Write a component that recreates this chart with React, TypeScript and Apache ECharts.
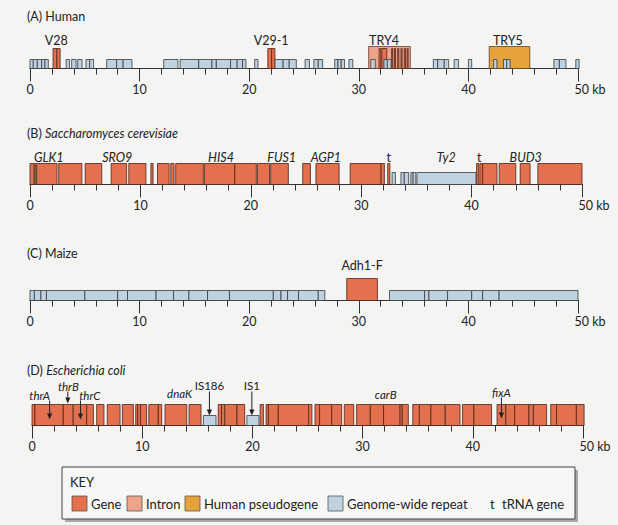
import React, { useEffect, useRef } from 'react';
import * as echarts from 'echarts';

type Block = [number, number, string];
type Label = [number, string];

// ---------- DATA (kb positions) ----------
const humanBlocks: Block[] = [
  [30.9, 34.7, 'intron'],
  [41.9, 45.6, 'pseudo'],
  [2.1, 2.45, 'gene'], [2.45, 2.75, 'gene'],
  [21.7, 22.05, 'gene'], [22.05, 22.35, 'gene'],
  [31.85, 32.0, 'gene'], [32.1, 32.55, 'gene'], [33.0, 33.1, 'gene'], [33.25, 33.35, 'gene'],
  [33.55, 33.65, 'gene'], [33.85, 33.95, 'gene'], [34.15, 34.25, 'gene'], [34.4, 34.5, 'gene'],
  [0, 0.3, 'repeat'], [0.3, 0.67, 'repeat'], [0.67, 1.07, 'repeat'], [1.07, 1.37, 'repeat'], [1.37, 1.67, 'repeat'],
  [3.3, 3.6, 'repeat'], [3.8, 4.2, 'repeat'], [4.35, 4.75, 'repeat'], [5.1, 5.45, 'repeat'], [5.45, 5.8, 'repeat'],
  [7.0, 7.9, 'repeat'], [7.9, 8.5, 'repeat'], [8.5, 9.3, 'repeat'],
  [12.2, 13.5, 'repeat'],
  [13.7, 15.4, 'repeat'], [15.4, 16.6, 'repeat'], [16.6, 17.0, 'repeat'], [17.0, 18.3, 'repeat'],
  [18.3, 18.9, 'repeat'], [18.9, 19.4, 'repeat'], [19.4, 19.7, 'repeat'],
  [20.5, 20.8, 'repeat'],
  [22.35, 23.1, 'repeat'], [23.1, 23.65, 'repeat'], [23.65, 24.3, 'repeat'],
  [25.1, 25.5, 'repeat'], [25.9, 26.3, 'repeat'], [26.3, 26.7, 'repeat'],
  [27.8, 28.1, 'repeat'], [28.1, 28.4, 'repeat'], [28.4, 28.7, 'repeat'],
  [29.1, 29.45, 'repeat'],
  [31.1, 31.5, 'repeat'], [32.3, 32.6, 'repeat'], [32.6, 32.95, 'repeat'],
  [36.8, 37.2, 'repeat'], [37.2, 37.8, 'repeat'], [37.8, 38.2, 'repeat'],
  [38.7, 39.1, 'repeat'],
  [40.0, 40.3, 'repeat'],
  [42.3, 42.6, 'repeat'], [43.2, 43.5, 'repeat'], [43.5, 43.8, 'repeat'],
  [47.8, 48.3, 'repeat'], [48.3, 48.9, 'repeat'],
  [49.8, 50.1, 'repeat'],
];
const humanLabels: Label[] = [[2.4, 'V28'], [22.0, 'V29-1'], [32.3, 'TRY4'], [43.6, 'TRY5']];

const yeastBlocks: Block[] = [
  [0, 0.36, 'gene'], [0.42, 0.55, 'gene'], [0.6, 2.45, 'gene'], [2.6, 4.7, 'gene'], [5.0, 6.5, 'gene'],
  [7.35, 8.75, 'gene'], [8.95, 10.5, 'gene'], [10.95, 11.15, 'gene'], [11.55, 12.6, 'gene'], [12.75, 13.05, 'gene'],
  [13.2, 15.7, 'gene'], [15.8, 18.55, 'gene'], [18.55, 20.5, 'gene'], [20.6, 21.7, 'gene'], [21.8, 23.4, 'gene'],
  [24.7, 25.4, 'gene'], [25.9, 28.0, 'gene'], [29.0, 31.8, 'gene'], [31.8, 32.1, 'gene'], [32.4, 32.6, 'gene'],
  [32.8, 33.1, 'repeat'], [33.6, 33.9, 'repeat'], [33.9, 34.3, 'repeat'], [34.5, 34.7, 'repeat'], [34.7, 34.95, 'repeat'],
  [35.05, 40.4, 'repeat'],
  [40.45, 40.65, 'gene'], [40.75, 41.0, 'gene'], [41.0, 42.3, 'gene'], [42.5, 44.0, 'gene'], [44.4, 45.3, 'gene'],
  [46.0, 50.0, 'gene'],
];
const yeastLabels: Label[] = [
  [1.7, 'GLK1'], [7.9, 'SRO9'], [17.3, 'HIS4'], [22.8, 'FUS1'], [26.8, 'AGP1'],
  [32.5, 't'], [37.7, 'Ty2'], [40.7, 't'], [44.9, 'BUD3'],
];

const maizeBlocks: Block[] = [
  [0, 0.4, 'repeat'], [0.4, 1.0, 'repeat'], [1.0, 1.5, 'repeat'], [1.5, 5.0, 'repeat'], [5.0, 8.0, 'repeat'],
  [8.0, 8.9, 'repeat'], [8.9, 11.5, 'repeat'], [11.5, 13.1, 'repeat'], [13.1, 14.5, 'repeat'], [14.5, 16.2, 'repeat'],
  [16.2, 18.2, 'repeat'], [18.2, 22.2, 'repeat'], [22.2, 22.9, 'repeat'], [22.9, 23.5, 'repeat'], [23.5, 24.5, 'repeat'],
  [24.5, 26.3, 'repeat'], [26.3, 26.9, 'repeat'],
  [28.9, 31.7, 'gene'],
  [32.8, 36.0, 'repeat'], [36.0, 36.4, 'repeat'], [36.4, 38.1, 'repeat'], [38.1, 40.3, 'repeat'],
  [40.3, 41.3, 'repeat'], [41.3, 42.8, 'repeat'], [42.8, 50.0, 'repeat'],
];
const maizeLabels: Label[] = [[30.3, 'Adh1-F']];

const ecoliBlocks: Block[] = [
  [0, 0.27, 'gene'], [0.27, 2.84, 'gene'], [2.84, 3.74, 'gene'], [3.74, 4.96, 'gene'], [4.96, 5.57, 'gene'],
  [5.87, 6.53, 'gene'], [6.83, 7.99, 'gene'], [8.2, 9.2, 'gene'],
  [9.41, 9.6, 'gene'], [9.6, 9.85, 'gene'], [9.85, 10.4, 'gene'],
  [10.6, 11.46, 'gene'], [11.46, 11.77, 'gene'],
  [12.07, 14.04, 'gene'], [14.25, 15.34, 'gene'],
  [15.55, 16.7, 'repeat'],
  [16.9, 17.2, 'gene'], [17.2, 17.5, 'gene'], [17.5, 18.6, 'gene'], [18.6, 19.3, 'gene'],
  [19.5, 20.6, 'repeat'],
  [20.7, 21.0, 'gene'],
  [21.24, 21.45, 'gene'], [21.45, 22.35, 'gene'], [22.35, 25.1, 'gene'], [25.1, 25.4, 'gene'],
  [25.68, 26.1, 'gene'], [26.1, 27.2, 'gene'], [27.2, 28.1, 'gene'], [28.34, 29.2, 'gene'],
  [29.46, 30.7, 'gene'], [30.7, 31.9, 'gene'], [31.9, 33.4, 'gene'], [33.4, 33.6, 'gene'], [33.6, 34.15, 'gene'],
  [34.55, 35.15, 'gene'], [35.15, 36.2, 'gene'], [36.2, 37.5, 'gene'], [37.5, 38.84, 'gene'],
  [39.07, 40.1, 'gene'], [40.1, 41.7, 'gene'],
  [42.2, 43.0, 'gene'], [43.0, 43.8, 'gene'], [43.8, 45.1, 'gene'], [45.1, 45.5, 'gene'], [45.5, 46.7, 'gene'],
  [47.07, 47.6, 'gene'], [47.6, 49.4, 'gene'], [49.4, 50.1, 'gene'],
];
// [arrow position kb, label position kb, name, hasArrow]
const ecoliMarkers: [number, number, string, boolean][] = [
  [1.6, 0.7, 'thrA', true],
  [3.25, 3.3, 'thrB', true],
  [4.4, 5.25, 'thrC', true],
  [13.4, 13.4, 'dnaK', false],
  [16.1, 16.1, 'IS186', true],
  [19.95, 19.95, 'IS1', true],
  [32.1, 32.1, 'carB', false],
  [42.6, 42.6, 'fixA', true],
];

const tickLabels = ['0', '10', '20', '30', '40', '50 kb'];
const keyItems: [string, string][] = [
  ['gene', 'Gene'], ['intron', 'Intron'], ['pseudo', 'Human pseudogene'], ['repeat', 'Genome-wide repeat'], ['t', 'tRNA gene'],
];

// ---------- STYLES ----------
const FONT = 'Lato, "Open Sans", "DejaVu Sans", sans-serif';
const BG = '#f4f4f2';
const TEXT = '#222';
const FILL: Record<string, string> = {
  gene: '#e3704e', intron: '#eca58b', pseudo: '#e6a33c', repeat: '#bfd2e2',
};
const STROKE: Record<string, string> = {
  gene: '#4e2519', intron: '#6a3a2a', pseudo: '#5e4020', repeat: '#3a3a3a',
};
const ECOLI_STYLE: Record<string, { rise: number; top: number; tip: number; italic: boolean }> = {
  thrA: { rise: 30, top: 25, tip: 6, italic: true },
  thrB: { rise: 39, top: 34, tip: 22, italic: true },
  thrC: { rise: 30, top: 25, tip: 6, italic: true },
  dnaK: { rise: 32, top: 0, tip: 0, italic: true },
  IS186: { rise: 40, top: 34, tip: 10, italic: false },
  IS1: { rise: 40, top: 34, tip: 10, italic: false },
  carB: { rise: 31, top: 0, tip: 0, italic: true },
  fixA: { rise: 33, top: 28, tip: 7, italic: true },
};

const panels = [
  { title: '(A) Human', left: 30, width: 548, axisY: 68.5, blocks: humanBlocks, labels: humanLabels, heights: { gene: 20, intron: 22, pseudo: 22, repeat: 9 }, rise: 28, italic: false, titleY: 18 },
  { title: '(B) {i|Saccharomyces cerevisiae}', left: 30, width: 552, axisY: 184.5, blocks: yeastBlocks, labels: yeastLabels, heights: { gene: 21, intron: 21, pseudo: 21, repeat: 12 }, rise: 27, italic: true, titleY: 135 },
  { title: '(C) Maize', left: 30, width: 548, axisY: 300.5, blocks: maizeBlocks, labels: maizeLabels, heights: { gene: 22, intron: 22, pseudo: 22, repeat: 10 }, rise: 35, italic: false, titleY: 255 },
  { title: '(D) {i|Escherichia coli}', left: 32, width: 551, axisY: 425.5, blocks: ecoliBlocks, labels: [] as Label[], heights: { gene: 21, intron: 21, pseudo: 21, repeat: 10 }, rise: 32, italic: true, titleY: 372 },
];

function buildOption() {
  const grid: any[] = [];
  const xAxis: any[] = [];
  const yAxis: any[] = [];
  const series: any[] = [];
  const graphic: any[] = [];

  panels.forEach((p, i) => {
    grid.push({ left: p.left, width: p.width, top: p.axisY - 22, height: 22 });
    yAxis.push({ gridIndex: i, type: 'value', min: 0, max: 22, show: false });
    xAxis.push({
      gridIndex: i, type: 'value', min: 0, max: 50, interval: 2, position: 'bottom',
      axisLine: { show: true, lineStyle: { color: '#333', width: 1 } },
      axisTick: { show: true, length: 6, lineStyle: { color: '#333', width: 1 } },
      axisLabel: { show: false }, splitLine: { show: false },
    });
    xAxis.push({
      gridIndex: i, type: 'value', min: 0, max: 50, interval: 10, position: 'bottom',
      axisLine: { show: false },
      axisTick: { show: true, length: 13, lineStyle: { color: '#333', width: 1 } },
      axisLabel: {
        show: true, margin: 14, color: TEXT, fontFamily: FONT, fontSize: 12.5,
        formatter: (v: number) => {
          const t = tickLabels[Math.round(v / 10)];
          return v === 50 ? '{e|' + t + '}' : t;
        },
        rich: { e: { color: TEXT, fontFamily: FONT, fontSize: 12.5, padding: [0, 0, 0, 24] } },
      },
      splitLine: { show: false },
    });
    const blocks = p.blocks;
    const heights: any = p.heights;
    series.push({
      type: 'custom', xAxisIndex: 2 * i, yAxisIndex: i, silent: true, clip: false,
      data: blocks.map((b) => [b[0], b[1], 0]),
      encode: { x: [0, 1], y: 2 },
      renderItem: (params: any, api: any) => {
        const b = blocks[params.dataIndex];
        const c0 = api.coord([b[0], 0]);
        const c1 = api.coord([b[1], 0]);
        const h = heights[b[2]];
        return {
          type: 'rect',
          shape: { x: c0[0], y: c0[1] - h, width: c1[0] - c0[0], height: h },
          style: { fill: FILL[b[2]], stroke: STROKE[b[2]], lineWidth: 0.8 },
        };
      },
    });
    const labels = p.labels;
    if (labels.length) {
      series.push({
        type: 'custom', xAxisIndex: 2 * i, yAxisIndex: i, silent: true, clip: false, z: 5,
        data: labels.map((l) => [l[0], 0]),
        encode: { x: 0, y: 1 },
        renderItem: (params: any, api: any) => {
          const l = labels[params.dataIndex];
          const c = api.coord([l[0], 0]);
          const plain = l[1] === 't';
          return {
            type: 'text', x: c[0], y: c[1] - p.rise,
            style: {
              text: l[1], fill: TEXT, fontFamily: FONT, fontSize: 12.5,
              fontStyle: p.italic && !plain ? 'italic' : 'normal',
              align: 'center', verticalAlign: 'middle',
            },
          };
        },
      });
    }
    graphic.push({
      type: 'text', left: 27, top: p.titleY - 8,
      style: {
        text: p.title, fill: TEXT, fontFamily: FONT, fontSize: 12.5,
        rich: { i: { fontStyle: 'italic', fontFamily: FONT, fontSize: 12.5, fill: TEXT } },
      },
    });
  });

  // E. coli markers (panel index 3)
  series.push({
    type: 'custom', xAxisIndex: 6, yAxisIndex: 3, silent: true, clip: false, z: 6,
    data: ecoliMarkers.map((m) => [m[0], 0]),
    encode: { x: 0, y: 1 },
    renderItem: (params: any, api: any) => {
      const m = ecoliMarkers[params.dataIndex];
      const st = ECOLI_STYLE[m[2]];
      const a = api.coord([m[0], 0]);
      const l = api.coord([m[1], 0]);
      const children: any[] = [{
        type: 'text', x: l[0], y: a[1] - st.rise,
        style: {
          text: m[2], fill: TEXT, fontFamily: FONT, fontSize: 11.5,
          fontStyle: st.italic ? 'italic' : 'normal', align: 'center', verticalAlign: 'middle',
        },
      }];
      if (m[3]) {
        children.push({
          type: 'line', shape: { x1: a[0], y1: a[1] - st.top, x2: a[0], y2: a[1] - st.tip - 5 },
          style: { stroke: '#222', lineWidth: 1 },
        });
        children.push({
          type: 'polygon',
          shape: { points: [[a[0] - 2.6, a[1] - st.tip - 6], [a[0] + 2.6, a[1] - st.tip - 6], [a[0], a[1] - st.tip]] },
          style: { fill: '#222' },
        });
      }
      return { type: 'group', children };
    },
  });

  // KEY box
  const keyX = [72, 127, 185, 328, 490];
  graphic.push({ type: 'rect', shape: { x: 65, y: 470, width: 513, height: 52 }, style: { fill: '#a8a8a8' }, z: 1 });
  graphic.push({ type: 'rect', shape: { x: 62, y: 467, width: 513, height: 52 }, style: { fill: '#f7f7f5', stroke: '#444', lineWidth: 1 }, z: 2 });
  graphic.push({ type: 'text', x: 70, y: 475, style: { text: 'KEY', fill: TEXT, fontFamily: FONT, fontSize: 13 }, z: 3 });
  keyItems.forEach(([k, name], j) => {
    const x = keyX[j];
    if (k === 't') {
      graphic.push({ type: 'text', x: x, y: 497, style: { text: 't', fill: TEXT, fontFamily: FONT, fontSize: 13 }, z: 3 });
      graphic.push({ type: 'text', x: x + 12, y: 497, style: { text: name, fill: TEXT, fontFamily: FONT, fontSize: 13 }, z: 3 });
    } else {
      graphic.push({ type: 'rect', shape: { x: x, y: 496, width: 15, height: 15 }, style: { fill: FILL[k], stroke: '#555', lineWidth: 0.8 }, z: 3 });
      graphic.push({ type: 'text', x: x + 19, y: 497, style: { text: name, fill: TEXT, fontFamily: FONT, fontSize: 13 }, z: 3 });
    }
  });

  return {
    animation: false,
    backgroundColor: BG,
    grid, xAxis, yAxis, series, graphic,
  };
}

export default function App() {
  const ref = useRef<HTMLDivElement>(null);
  useEffect(() => {
    if (!ref.current) return;
    const chart = echarts.init(ref.current, undefined, { renderer: 'svg' });
    chart.setOption(buildOption() as any);
    return () => chart.dispose();
  }, []);
  return (
    <div
      ref={ref}
      style={{ position: 'fixed', left: 0, top: 0, width: 618, height: 525, background: BG }}
    />
  );
}
